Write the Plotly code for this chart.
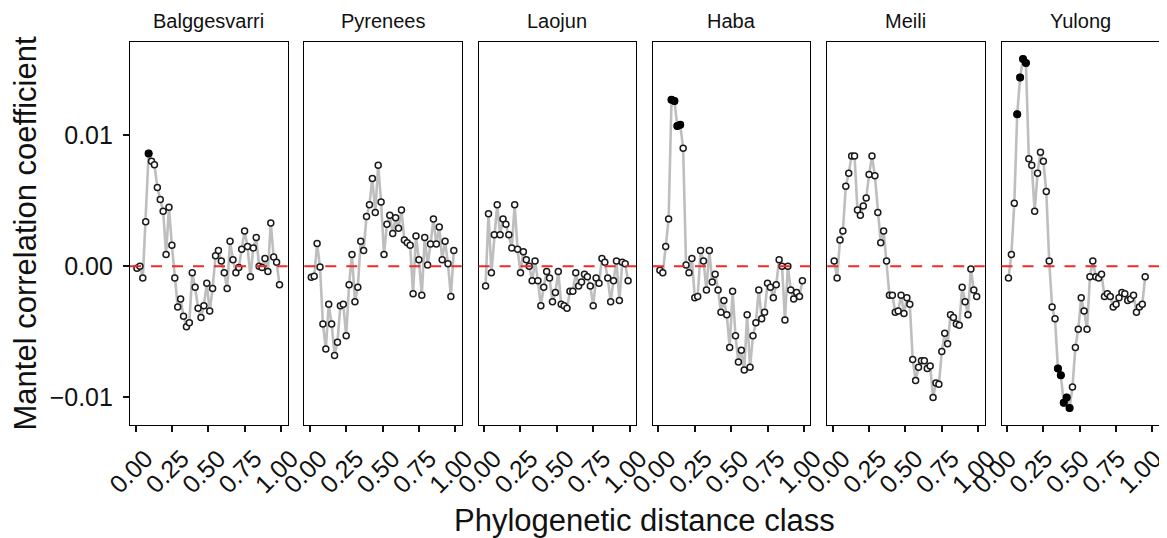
import plotly.graph_objects as go
from plotly.subplots import make_subplots

sites = ["Balggesvarri", "Pyrenees", "Laojun", "Haba", "Meili", "Yulong"]

dist_class = [0.01, 0.03, 0.05, 0.07, 0.09, 0.11, 0.13, 0.15, 0.17, 0.19,
              0.21, 0.23, 0.25, 0.27, 0.29, 0.31, 0.33, 0.35, 0.37, 0.39,
              0.41, 0.43, 0.45, 0.47, 0.49, 0.51, 0.53, 0.55, 0.57, 0.59,
              0.61, 0.63, 0.65, 0.67, 0.69, 0.71, 0.73, 0.75, 0.77, 0.79,
              0.81, 0.83, 0.85, 0.87, 0.89, 0.91, 0.93, 0.95, 0.97, 0.99]

balggesvarri = [-0.00015, 0.0, -0.0009, 0.0034, 0.0086, 0.0080, 0.00775, 0.0060, 0.0051, 0.0042,
                0.0009, 0.0045, 0.0016, -0.0009, -0.0031, -0.0025, -0.0038, -0.0046, -0.0043, -0.0005,
                -0.0016, -0.0032, -0.0039, -0.0030, -0.0013, -0.0034, -0.0017, 0.0008, 0.0012, 0.0004,
                -0.0005, -0.0017, 0.0019, 0.0005, -0.0005, -0.0001, 0.0013, 0.0027, 0.0015, -0.0008,
                0.0014, 0.0022, 0.0, -0.0001, 0.0006, -0.0004, 0.0033, 0.0007, 0.0003, -0.0014]

pyrenees = [-0.00084, -0.00076, 0.00173, -0.00005, -0.0044, -0.0063, -0.0029, -0.0044, -0.0068, -0.0058,
            -0.0030, -0.0029, -0.0053, -0.0014, 0.0009, -0.0027, -0.0016, 0.0019, 0.0012, 0.0038,
            0.0047, 0.0067, 0.0041, 0.0077, 0.0049, 0.0009, 0.0032, 0.0039, 0.0025, 0.0037,
            0.0029, 0.0043, 0.0020, 0.0018, 0.0016, -0.0021, 0.0023, 0.0005, -0.0022, 0.0022,
            0.0001, 0.0017, 0.0036, 0.0017, 0.0030, 0.0005, 0.0019, 0.0002, -0.0023, 0.0012]

laojun = [-0.0015, 0.0040, -0.0005, 0.0024, 0.0047, 0.0024, 0.0036, 0.0032, 0.0024, 0.0014,
          0.0047, 0.0013, -0.0005, 0.0011, 0.0005, 0.0000, -0.0011, 0.0004, -0.0011, -0.0030,
          -0.0016, -0.0004, -0.0009, -0.0027, -0.0020, -0.0004, -0.0029, -0.0030, -0.0032, -0.0019,
          -0.0019, -0.0005, -0.0015, -0.0012, -0.0006, -0.0008, -0.0015, -0.0030, -0.0009, -0.0013,
          0.0006, 0.0003, -0.0009, -0.0027, -0.0011, 0.0004, -0.0026, 0.0003, 0.0002, -0.0011]

haba = [-0.0003, -0.0005, 0.0015, 0.0036, 0.0127, 0.0126, 0.0107, 0.0108, 0.0090, 0.0001,
        -0.0005, 0.0006, -0.0024, -0.0023, 0.0012, 0.0004, -0.0018, 0.0012, -0.0012, -0.0006,
        -0.0018, -0.0035, -0.0026, -0.0037, -0.0062, -0.0019, -0.0053, -0.0073, -0.0064, -0.0079,
        -0.0037, -0.0077, -0.0053, -0.0043, -0.0018, -0.0040, -0.0035, -0.0013, -0.0016, -0.0024,
        -0.0014, 0.0005, 0.0000, -0.0041, 0.0000, -0.0018, -0.0025, -0.0020, -0.0023, -0.0011]

meili = [0.0004, -0.0009, 0.0020, 0.0027, 0.0061, 0.0071, 0.0084, 0.0084, 0.0043, 0.0039,
         0.0046, 0.0052, 0.0070, 0.0084, 0.0069, 0.0041, 0.0018, 0.0027, 0.0004, -0.0022,
         -0.0022, -0.0035, -0.0034, -0.0022, -0.0036, -0.0024, -0.0029, -0.0071, -0.0087, -0.0077,
         -0.0072, -0.0072, -0.0078, -0.0076, -0.0100, -0.0089, -0.0090, -0.0065, -0.0051, -0.0059,
         -0.0037, -0.0039, -0.0044, -0.0045, -0.0016, -0.0027, -0.0037, -0.0002, -0.0018, -0.0023]

yulong = [-0.0009, 0.0009, 0.0048, 0.0116, 0.0144, 0.0158, 0.0155, 0.0082, 0.0077, 0.0042,
          0.0071, 0.0087, 0.0080, 0.0057, 0.0004, -0.0031, -0.0040, -0.0078, -0.0083, -0.0104,
          -0.0100, -0.0108, -0.0092, -0.0062, -0.0048, -0.0024, -0.0034, -0.0048, -0.0008, 0.0004,
          -0.0008, -0.0009, -0.0006, -0.0023, -0.0021, -0.0023, -0.0031, -0.0029, -0.0024, -0.0020,
          -0.0021, -0.0026, -0.0025, -0.0022, -0.0035, -0.0031, -0.0029, -0.0008]

# distance classes with significant correlation (filled points)
sig_balggesvarri = [0.09]
sig_pyrenees = []
sig_laojun = []
sig_haba = [0.09, 0.11, 0.13, 0.15]
sig_meili = []
sig_yulong = [0.07, 0.09, 0.11, 0.13, 0.35, 0.37, 0.39, 0.41, 0.43]

values = [balggesvarri, pyrenees, laojun, haba, meili, yulong]
sigs = [sig_balggesvarri, sig_pyrenees, sig_laojun, sig_haba, sig_meili, sig_yulong]

x_ticks = [0, 0.25, 0.5, 0.75, 1.0]
x_ticktext = ["0.00", "0.25", "0.50", "0.75", "1.00"]
y_ticks = [-0.01, 0.0, 0.01]
y_ticktext = ["\u22120.01", "0.00", "0.01"]

FONT = "Liberation Sans, Arial, Helvetica, sans-serif"
# the page body adds an 8px offset, so the figure is 8px smaller than the window
W, H = 1159, 530
ML, MR, MT, MB = 122, 8, 34, 113
plot_w = W - ML - MR

fig = make_subplots(rows=1, cols=6, shared_yaxes=True,
                    horizontal_spacing=16.8 / plot_w)

for i, (site, vals, sig) in enumerate(zip(sites, values, sigs)):
    col = i + 1
    xs = dist_class[:len(vals)]
    fig.add_trace(go.Scatter(x=xs, y=vals, mode="lines",
                             line=dict(color="#BEBEBE", width=2.6),
                             hoverinfo="skip", showlegend=False), row=1, col=col)
    fig.add_trace(go.Scatter(x=xs, y=vals, mode="markers",
                             marker=dict(symbol="circle", size=6, color="white",
                                         line=dict(color="#1a1a1a", width=1.5)),
                             showlegend=False), row=1, col=col)
    if sig:
        sx = [x for x in xs if x in sig]
        sy = [v for x, v in zip(xs, vals) if x in sig]
        fig.add_trace(go.Scatter(x=sx, y=sy, mode="markers",
                                 marker=dict(symbol="circle", size=8, color="black",
                                             line=dict(color="black", width=0)),
                                 showlegend=False), row=1, col=col)
    fig.add_hline(y=0, line=dict(color="#EE2A2C", width=2, dash="11px,10px"),
                  row=1, col=col)

axis_common = dict(showline=True, mirror=True, linecolor="black", linewidth=1.1,
                   ticks="outside", ticklen=6, tickwidth=1.5, tickcolor="#111",
                   showgrid=False, zeroline=False, automargin=False,
                   tickfont=dict(family=FONT, size=25, color="#111"))

fig.update_xaxes(range=[-0.038, 1.045], tickvals=x_ticks, ticktext=x_ticktext,
                 tickangle=-45, ticklabelshift=10, ticklabelstandoff=2,
                 ticklabeloverflow="allow", **axis_common)
# keep the last panel's rightmost label inside the window
fig.update_layout(xaxis6=dict(ticklabelshift=2))
fig.update_yaxes(range=[-0.0121, 0.0171], tickvals=y_ticks, ticktext=y_ticktext,
                 ticklabelstandoff=5, **axis_common)
for k in range(2, 7):
    fig.layout["yaxis" + str(k)].ticks = ""

# strip labels
annotations = []
for i, site in enumerate(sites):
    xa = fig.layout["xaxis" + ("" if i == 0 else str(i + 1))]
    d0, d1 = xa.domain
    annotations.append(dict(text=site, x=(d0 + d1) / 2, y=1, xref="paper", yref="paper",
                            xanchor="center", yanchor="bottom", yshift=8, showarrow=False,
                            font=dict(family=FONT, size=20, color="#111")))
annotations.append(dict(text="Phylogenetic distance class", x=0.5, y=0, xref="paper", yref="paper",
                        xanchor="center", yanchor="middle", yshift=-95, showarrow=False,
                        font=dict(family=FONT, size=31, color="#111")))
annotations.append(dict(text="Mantel correlation coefficient", x=0, y=0.5, xref="paper", yref="paper",
                        xanchor="center", yanchor="middle", xshift=-(ML - 17), textangle=-90,
                        showarrow=False, font=dict(family=FONT, size=31, color="#111")))

fig.update_layout(width=W, height=H, margin=dict(l=ML, r=MR, t=MT, b=MB),
                  plot_bgcolor="white", paper_bgcolor="white",
                  annotations=annotations, showlegend=False,
                  font=dict(family=FONT))

fig.write_html("out.html")
